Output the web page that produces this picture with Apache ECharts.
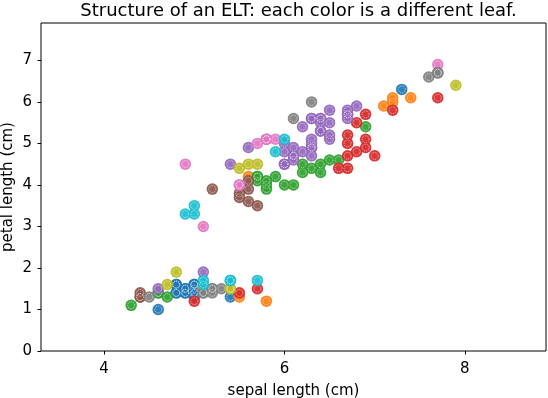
<!DOCTYPE html>
<html>
<head>
<meta charset="utf-8">
<script src="https://cdn.jsdelivr.net/npm/echarts@6/dist/echarts.min.js"></script>
<style>
html,body{margin:0;padding:0;background:#fff;}
#chart{width:548px;height:398px;}
</style>
</head>
<body>
<div id="chart"></div>
<script>
// Iris: sepal length (x) vs petal length (y); leaf = colour index of the tree leaf
const sepalLength = [
5.1,4.9,4.7,4.6,5.0,5.4,4.6,5.0,4.4,4.9,5.4,4.8,4.8,4.3,5.8,5.7,5.4,5.1,5.7,5.1,
5.4,5.1,4.6,5.1,4.8,5.0,5.0,5.2,5.2,4.7,4.8,5.4,5.2,5.5,4.9,5.0,5.5,4.9,4.4,5.1,
5.0,4.5,4.4,5.0,5.1,4.8,5.1,4.6,5.3,5.0,
7.0,6.4,6.9,5.5,6.5,5.7,6.3,4.9,6.6,5.2,5.0,5.9,6.0,6.1,5.6,6.7,5.6,5.8,6.2,5.6,
5.9,6.1,6.3,6.1,6.4,6.6,6.8,6.7,6.0,5.7,5.5,5.5,5.8,6.0,5.4,6.0,6.7,6.3,5.6,5.5,
5.5,6.1,5.8,5.0,5.6,5.7,5.7,6.2,5.1,5.7,
6.3,5.8,7.1,6.3,6.5,7.6,4.9,7.3,6.7,7.2,6.5,6.4,6.8,5.7,5.8,6.4,6.5,7.7,7.7,6.0,
6.9,5.6,7.7,6.3,6.7,7.2,6.2,6.1,6.4,7.2,7.4,7.9,6.4,6.3,6.1,7.7,6.3,6.4,6.0,6.9,
6.7,6.9,5.8,6.8,6.7,6.7,6.3,6.5,6.2,5.9];
const petalLength = [
1.4,1.4,1.3,1.5,1.4,1.7,1.4,1.5,1.4,1.5,1.5,1.6,1.4,1.1,1.2,1.5,1.3,1.4,1.7,1.5,
1.7,1.5,1.0,1.7,1.9,1.6,1.6,1.5,1.4,1.6,1.6,1.5,1.5,1.4,1.5,1.2,1.3,1.4,1.3,1.5,
1.3,1.3,1.3,1.6,1.9,1.4,1.6,1.4,1.5,1.4,
4.7,4.5,4.9,4.0,4.6,4.5,4.7,3.3,4.6,3.9,3.5,4.2,4.0,4.7,3.6,4.4,4.5,4.1,4.5,3.9,
4.8,4.0,4.9,4.7,4.3,4.4,4.8,5.0,4.5,3.5,3.8,3.7,3.9,5.1,4.5,4.5,4.7,4.4,4.1,4.0,
4.4,4.6,4.0,3.3,4.2,4.2,4.2,4.3,3.0,4.1,
6.0,5.1,5.9,5.6,5.8,6.6,4.5,6.3,5.8,6.1,5.1,5.3,5.5,5.0,5.1,5.3,5.5,6.7,6.9,5.0,
5.7,4.9,6.7,4.9,5.7,6.0,4.8,4.9,5.6,5.8,6.1,6.4,5.6,5.1,5.6,6.1,5.6,5.5,4.8,5.4,
5.6,5.1,5.1,5.9,5.7,5.2,5.0,5.2,5.4,5.1];
const leaf = [
7,0,2,4,0,9,2,0,5,0,8,0,0,2,1,3,0,7,9,1,
9,1,0,9,8,0,0,7,7,8,0,8,7,3,0,3,1,0,5,1,
0,7,5,0,4,0,9,2,7,0,
3,2,3,6,2,8,4,9,2,5,9,2,2,4,5,3,8,2,2,5,
9,2,4,4,2,3,3,3,4,5,5,5,2,9,4,4,3,2,5,6,
8,4,2,9,1,2,2,2,6,2,
7,6,1,4,4,7,6,0,4,1,4,4,3,6,6,4,4,7,6,4,
3,4,7,4,4,1,4,4,4,3,1,8,4,4,7,3,4,4,4,2,
4,3,6,4,4,3,4,4,4,6];
const leafColors = ['#1f77b4','#ff7f0e','#2ca02c','#d62728','#9467bd','#8c564b','#e377c2','#7f7f7f','#bcbd22','#17becf'];
const xTicks = [4,6,8];
const yTicks = [0,1,2,3,4,5,6,7];
const titleText = 'Structure of an ELT: each color is a different leaf.';
const xName = 'sepal length (cm)';
const yName = 'petal length (cm)';

const series = [];
leafColors.forEach((c, k) => {
  const pts = [];
  for (let i = 0; i < sepalLength.length; i++) if (leaf[i] === k) pts.push([sepalLength[i], petalLength[i]]);
  series.push({type:'scatter', data: pts, symbol:'circle', symbolSize: 11.5,
    itemStyle:{color:c, opacity:0.92}, silent:true, z:2});
  series.push({type:'scatter', data: pts, symbol:'circle', symbolSize: 7,
    itemStyle:{color:'rgba(0,0,0,0)', borderColor:'rgba(255,255,255,0.9)', borderWidth:0.9, borderType:[1,1]}, silent:true, z:2});
});

const font = 'DejaVu Sans';
const chart = echarts.init(document.getElementById('chart'), null, {renderer:'canvas'});
chart.setOption({
  animation:false,
  backgroundColor:'#fff',
  title:{text:titleText, left:293.5, textAlign:'center', top:-3,
    textStyle:{fontFamily:font, fontSize:18, fontWeight:'normal', color:'#000'}},
  grid:{left:41, right:2, top:23, bottom:47, show:true, borderColor:'#000', borderWidth:1,
    outerBoundsMode:'none', containLabel:false},
  xAxis:{type:'value', min:3.3, max:8.9,
    name:xName, nameLocation:'middle', nameGap:33, nameMoveOverlap:false,
    nameTextStyle:{fontFamily:font, fontSize:15, color:'#000'},
    axisLine:{show:false}, splitLine:{show:false},
    axisTick:{show:true, length:3.5, inside:false, lineStyle:{color:'#000', width:1}, customValues:xTicks},
    axisLabel:{fontFamily:font, fontSize:15, color:'#000', margin:11, customValues:xTicks}},
  yAxis:{type:'value', min:0, max:7.9,
    name:yName, nameLocation:'middle', nameGap:25, nameRotate:90, nameMoveOverlap:false,
    nameTextStyle:{fontFamily:font, fontSize:15, color:'#000'},
    axisLine:{show:false}, splitLine:{show:false},
    axisTick:{show:true, length:3.5, inside:false, lineStyle:{color:'#000', width:1}, customValues:yTicks},
    axisLabel:{fontFamily:font, fontSize:15, color:'#000', margin:9, customValues:yTicks}},
  series: series
});
</script>
</body>
</html>
